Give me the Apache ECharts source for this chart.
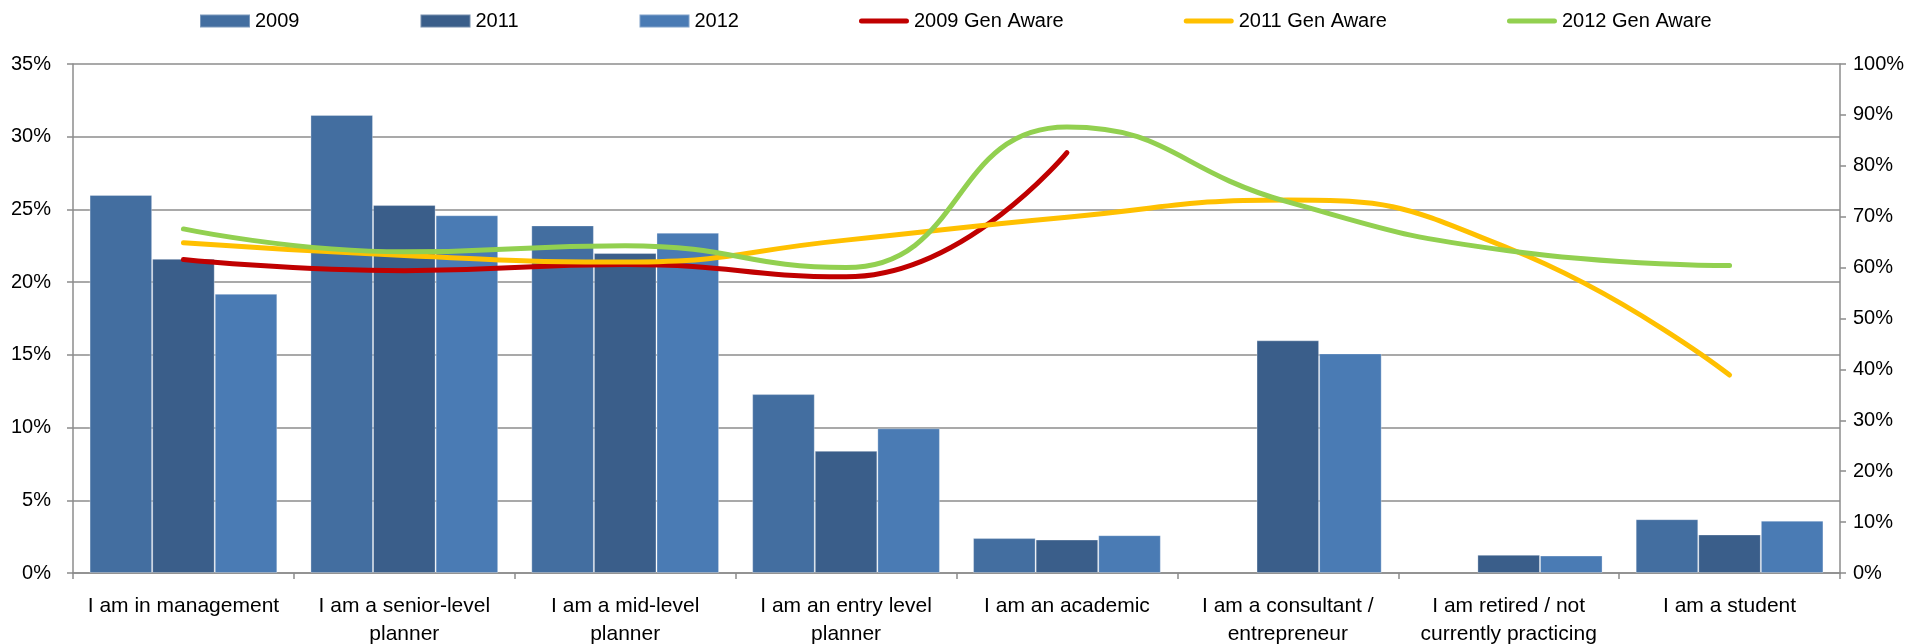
<!DOCTYPE html>
<html>
<head>
<meta charset="utf-8">
<script src="https://cdn.jsdelivr.net/npm/echarts@6/dist/echarts.min.js"></script>
<style>
  html, body { margin: 0; padding: 0; background: #fff; }
  #chart { width: 1927px; height: 644px; }
</style>
</head>
<body>
<div id="chart"></div>
<script>
const categories = [
    'I am in management',
    'I am a senior-level\nplanner',
    'I am a mid-level\nplanner',
    'I am an entry level\nplanner',
    'I am an academic',
    'I am a consultant /\nentrepreneur',
    'I am retired / not\ncurrently practicing',
    'I am a student'
];
// bar shares (%), left axis
const bars2009 = [26.0, 31.5, 23.9, 12.3, 2.4, '-', '-', 3.7];
const bars2011 = [21.6, 25.3, 22.0, 8.4, 2.3, 16.0, 1.25, 2.65];
const bars2012 = [19.2, 24.6, 23.4, 9.95, 2.6, 15.1, 1.2, 3.6];
// gen aware (%), right axis
const aware2009 = [61.6, 59.4, 60.6, 58.2, 82.6, null, null, null];
const aware2011 = [64.9, 62.4, 61.1, 65.4, 69.9, 73.3, 63.8, 38.9];
const aware2012 = [67.6, 63.1, 64.3, 60.0, 87.6, 72.9, 63.3, 60.4];

const colorSets = {
    bar2009: '#436ea0',
    bar2011: '#3a5e8a',
    bar2012: '#4a7bb4',
    red: '#c00000',
    yellow: '#ffc000',
    green: '#92d050',
    line: '#8c8c8c',
    text: '#000000'
};
const fontFamily = '"Liberation Sans", Arial, sans-serif';
const lineIcon = 'path://M2.5,0 L47.5,0 A2.5,2.5 0 0 1 47.5,5 L2.5,5 A2.5,2.5 0 0 1 2.5,0 Z';

function barSeries(name, data, color) {
    return {
        name: name,
        type: 'bar',
        data: data,
        barGap: '0%',
        barCategoryGap: '15%',
        itemStyle: { color: color, borderColor: 'rgba(255,255,255,0.3)', borderWidth: 1 }
    };
}
function lineSeries(name, data, color) {
    return {
        name: name,
        type: 'line',
        yAxisIndex: 1,
        data: data,
        smooth: 0.5,
        showSymbol: false,
        symbol: 'none',
        connectNulls: false,
        lineStyle: { color: color, width: 5, cap: 'round' },
        itemStyle: { color: color },
        z: 5
    };
}

const chart = echarts.init(document.getElementById('chart'), null, { renderer: 'canvas' });
chart.setOption({
    animation: false,
    textStyle: { fontFamily: fontFamily },
    legend: {
        top: 6,
        left: 194,
        itemGap: 120,
        itemWidth: 50,
        itemHeight: 13,
        textStyle: { fontSize: 20, color: colorSets.text, fontFamily: fontFamily },
        data: [
            { name: '2009', icon: 'rect' },
            { name: '2011', icon: 'rect' },
            { name: '2012', icon: 'rect' },
            { name: '2009 Gen Aware', icon: lineIcon },
            { name: '2011 Gen Aware', icon: lineIcon },
            { name: '2012 Gen Aware', icon: lineIcon }
        ]
    },
    grid: { left: 73, right: 87, top: 64, bottom: 71, containLabel: false, outerBoundsMode: 'none' },
    xAxis: {
        type: 'category',
        data: categories,
        axisLine: { lineStyle: { color: colorSets.line, width: 1.5 } },
        axisTick: { show: true, length: 6, lineStyle: { color: colorSets.line, width: 1.5 } },
        axisLabel: { color: colorSets.text, fontSize: 21, margin: 19, lineHeight: 28, interval: 0 }
    },
    yAxis: [
        {
            type: 'value',
            min: 0,
            max: 35,
            interval: 5,
            axisLine: { show: true, lineStyle: { color: colorSets.line, width: 1.5 } },
            axisTick: { show: true, length: 6, lineStyle: { color: colorSets.line, width: 1.5 } },
            splitLine: { show: true, lineStyle: { color: colorSets.line, width: 1.5 } },
            axisLabel: { color: colorSets.text, fontSize: 20, margin: 22, formatter: '{value}%' }
        },
        {
            type: 'value',
            min: 0,
            max: 100,
            interval: 10,
            axisLine: { show: true, lineStyle: { color: colorSets.line, width: 1.5 } },
            axisTick: { show: true, length: 6, lineStyle: { color: colorSets.line, width: 1.5 } },
            splitLine: { show: false },
            axisLabel: { color: colorSets.text, fontSize: 20, margin: 13, formatter: '{value}%' }
        }
    ],
    series: [
        barSeries('2009', bars2009, colorSets.bar2009),
        barSeries('2011', bars2011, colorSets.bar2011),
        barSeries('2012', bars2012, colorSets.bar2012),
        lineSeries('2009 Gen Aware', aware2009, colorSets.red),
        lineSeries('2011 Gen Aware', aware2011, colorSets.yellow),
        lineSeries('2012 Gen Aware', aware2012, colorSets.green)
    ]
});
</script>
</body>
</html>
